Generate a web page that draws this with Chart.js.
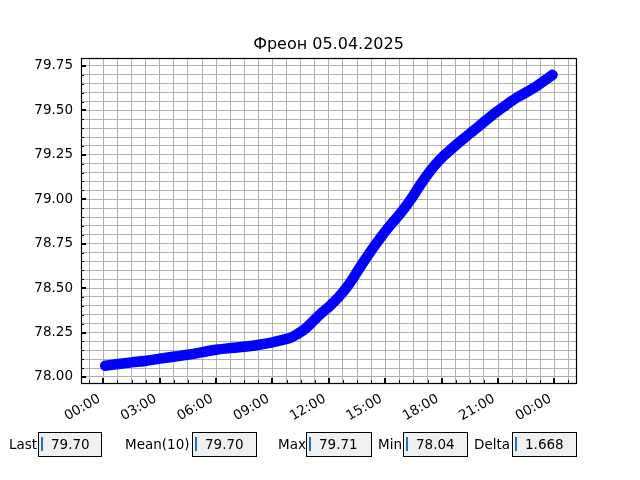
<!DOCTYPE html>
<html><head><meta charset="utf-8">
<script src="https://cdn.jsdelivr.net/npm/chart.js@4/dist/chart.umd.min.js"></script>
<style>
body{margin:0;background:#fff;font-family:"DejaVu Sans",sans-serif;}
#wrap{position:relative;width:640px;height:480px;overflow:hidden;}
#c{position:absolute;left:0;top:0;}
.lbl{position:absolute;font-size:13.5px;color:#000;top:435px;line-height:18px;}
.box{position:absolute;top:432px;height:25px;box-sizing:border-box;border:1px solid #000;background:#f0f0f0;font-size:13.5px;}
.box .cur{position:absolute;left:2px;top:4px;width:2px;height:14px;background:#1f77b4;}
.box .val{position:absolute;left:12px;top:2px;line-height:18px;}
</style></head>
<body>
<div id="wrap">
<canvas id="c" width="640" height="480"></canvas>
</div>
<script>
// ---- data ----
const title = 'Фреон 05.04.2025';
const hours = [0.1, 0.8, 1.5, 2.2, 3.0, 3.8, 4.6, 5.3, 6.0, 6.8, 7.5, 8.2, 9.0, 9.6, 9.95, 10.3, 10.75, 11.2, 11.55, 12.0, 12.6, 13.1, 13.65, 14.2, 14.7, 15.2, 15.8, 16.3, 17.0, 17.6, 18.1, 18.7, 19.3, 20.0, 20.7, 21.4, 22.0, 22.6, 23.1, 23.5, 23.9];
const values = [78.063, 78.073, 78.082, 78.090, 78.103, 78.115, 78.127, 78.140, 78.153, 78.163, 78.170, 78.180, 78.195, 78.210, 78.220, 78.240, 78.272, 78.318, 78.354, 78.394, 78.459, 78.526, 78.616, 78.703, 78.777, 78.845, 78.920, 78.990, 79.102, 79.186, 79.243, 79.300, 79.352, 79.412, 79.474, 79.528, 79.572, 79.608, 79.640, 79.670, 79.700];
const xTickHours = [0, 3, 6, 9, 12, 15, 18, 21, 24];
const xTickLabels = ['00:00', '03:00', '06:00', '09:00', '12:00', '15:00', '18:00', '21:00', '00:00'];
const yTickValues = [78.00, 78.25, 78.50, 78.75, 79.00, 79.25, 79.50, 79.75];
const statNames = ['Last', 'Mean(10)', 'Max', 'Min', 'Delta'];
const statValues = ['79.70', '79.70', '79.71', '78.04', '1.668'];

// ---- layout / style ----
const X_MIN = -1.19, X_MAX = 25.15, X_MINOR = 0.75;
const Y_MIN = 77.966, Y_MAX = 79.795, Y_MINOR = 0.05;
const FONT = '"DejaVu Sans", sans-serif';

function minorList(lo, hi, step, start) {
  const out = [];
  const k0 = Math.ceil((lo - start) / step - 1e-9);
  for (let k = k0; start + k * step <= hi + 1e-9; k++) {
    const v = +(start + k * step).toFixed(6);
    if (v > lo + 1e-9 && v < hi - 1e-9) out.push(v);
  }
  return out;
}
const xMinor = minorList(X_MIN, X_MAX, X_MINOR, 0);
const yMinor = minorList(Y_MIN, Y_MAX, Y_MINOR, 78);
const isXMajor = v => xTickHours.some(h => Math.abs(h - v) < 1e-6);
const isYMajor = v => yTickValues.some(h => Math.abs(h - v) < 1e-6);

const tickPlugin = {
  id: 'mplTicks',
  afterDatasetsDraw(chart) {
    const ctx = chart.ctx, a = chart.chartArea;
    const xs = chart.scales.x, ys = chart.scales.y;
    ctx.save();
    ctx.strokeStyle = '#000';
    xMinor.forEach(v => {
      const px = Math.round(xs.getPixelForValue(v)) + 0.5;
      const major = isXMajor(v);
      ctx.lineWidth = major ? 2 : 1;
      ctx.beginPath();
      ctx.moveTo(major ? px - 0.5 : px, a.bottom);
      ctx.lineTo(major ? px - 0.5 : px, a.bottom - (major ? 5 : 3));
      ctx.stroke();
    });
    yMinor.forEach(v => {
      const py = Math.round(ys.getPixelForValue(v)) + 0.5;
      const major = isYMajor(v);
      ctx.lineWidth = major ? 2 : 1;
      ctx.beginPath();
      ctx.moveTo(a.left, major ? py - 0.5 : py);
      ctx.lineTo(a.left + (major ? 5 : 3), major ? py - 0.5 : py);
      ctx.stroke();
    });
    ctx.lineWidth = 1.2;
    ctx.strokeRect(Math.round(a.left) + 0.5, Math.round(a.top) + 0.5,
                   Math.round(a.right - a.left), Math.round(a.bottom - a.top));
    ctx.restore();
  }
};

new Chart(document.getElementById('c'), {
  type: 'line',
  data: {
    datasets: [{
      data: hours.map((h, i) => ({ x: h, y: values[i] })),
      borderColor: '#0000ff',
      backgroundColor: '#0000ff',
      borderWidth: 10.5,
      borderCapStyle: 'round',
      borderJoinStyle: 'round',
      pointRadius: 0,
      cubicInterpolationMode: 'monotone',
      fill: false
    }]
  },
  options: {
    responsive: false,
    animation: false,
    events: [],
    layout: { padding: { left: 0, right: 64, top: 0, bottom: 0 } },
    plugins: {
      legend: { display: false },
      tooltip: { enabled: false },
      title: {
        display: true,
        text: title,
        fullSize: false,
        color: '#000',
        font: { family: FONT, size: 16, weight: 'normal', lineHeight: 1.2 },
        padding: { top: 35.4, bottom: 3.4 }
      }
    },
    scales: {
      x: {
        type: 'linear',
        min: X_MIN, max: X_MAX,
        afterBuildTicks: s => { s.ticks = xMinor.map(v => ({ value: v })); },
        afterFit: s => { s.height = 97; },
        border: { display: false },
        grid: { color: '#b0b0b0', lineWidth: 1, drawTicks: false },
        ticks: {
          autoSkip: false, maxRotation: 30, minRotation: 30, padding: 8, labelOffset: -4,
          color: '#000', font: { family: FONT, size: 13.5 },
          callback: v => { const i = xTickHours.findIndex(h => Math.abs(h - v) < 1e-6); return i >= 0 ? xTickLabels[i] : ''; }
        }
      },
      y: {
        type: 'linear',
        min: Y_MIN, max: Y_MAX,
        afterBuildTicks: s => { s.ticks = yMinor.map(v => ({ value: v })); },
        afterFit: s => { s.width = 81; },
        border: { display: false },
        grid: { color: '#b0b0b0', lineWidth: 1, drawTicks: false },
        ticks: {
          autoSkip: false, padding: 8,
          color: '#000', font: { family: FONT, size: 13.5 },
          callback: v => isYMajor(v) ? v.toFixed(2) : ''
        }
      }
    }
  },
  plugins: [tickPlugin]
});

// ---- stat boxes (HTML text) ----
const labelX = [9, 125, 278, 378, 474];
const boxX = [38, 192, 306, 403, 512];
const boxW = [64, 65, 66, 65, 65];
const wrap = document.getElementById('wrap');
statNames.forEach((n, i) => {
  const l = document.createElement('div');
  l.className = 'lbl'; l.style.left = labelX[i] + 'px'; l.textContent = n;
  wrap.appendChild(l);
  const b = document.createElement('div');
  b.className = 'box'; b.style.left = boxX[i] + 'px'; b.style.width = boxW[i] + 'px';
  const c = document.createElement('div'); c.className = 'cur';
  const t = document.createElement('div'); t.className = 'val'; t.textContent = statValues[i];
  b.appendChild(c); b.appendChild(t);
  wrap.appendChild(b);
});
</script>
</body></html>
